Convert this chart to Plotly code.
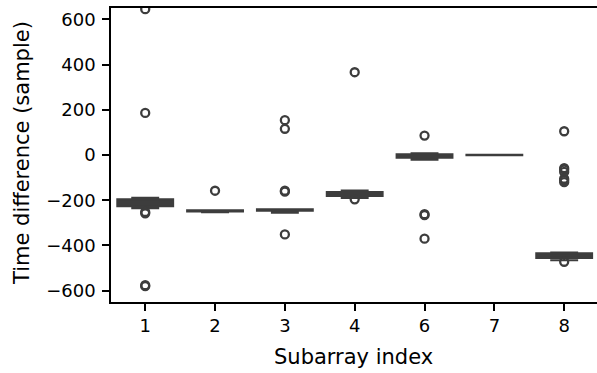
import plotly.graph_objects as go

categories = ["1", "2", "3", "4", "6", "7", "8"]
q1 = [-227, -250, -246, -181, -12, -1, -455]
median = [-212, -247, -243, -172, -5, 0, -445]
q3 = [-196, -244, -240, -164, 3, 1, -434]
lowerfence = [-236, -253, -255, -190, -21, -1, -465]
upperfence = [-189, -244, -240, -157, 8, 1, -431]

outliers_1 = [645, 186, -252, -258, -576, -580]
outliers_2 = [-158]
outliers_3 = [154, 116, -158, -162, -351]
outliers_4 = [366, -196]
outliers_6 = [86, -262, -266, -370]
outliers_7 = []
outliers_8 = [105, -58, -65, -75, -105, -112, -120, -472]

outliers = [outliers_1, outliers_2, outliers_3, outliers_4, outliers_6, outliers_7, outliers_8]

x_title = "Subarray index"
y_title = "Time difference (sample)"

dark = "#3d3d3d"
font = "DejaVu Sans"

W, H = 597, 373
ML, MR, MT, MB = 111, 0, 8, 71
pw, ph = W - ML - MR, H - MT - MB

fig = go.Figure()
fig.add_trace(go.Box(
    x=categories, q1=q1, median=median, q3=q3,
    lowerfence=lowerfence, upperfence=upperfence,
    boxpoints=False, fillcolor=dark, width=0.8,
    line=dict(color=dark, width=2), whiskerwidth=0.5,
    showlegend=False, hoverinfo="skip",
))

ox, oy = [], []
for c, vals in zip(categories, outliers):
    for v in vals:
        ox.append(c)
        oy.append(v)
fig.add_trace(go.Scatter(
    x=ox, y=oy, mode="markers",
    marker=dict(symbol="circle-open", size=8, color=dark, line=dict(width=2.3, color=dark)),
    showlegend=False, cliponaxis=True,
))

fig.update_layout(
    width=W, height=H,
    margin=dict(l=ML, r=MR, t=MT, b=MB, autoexpand=False),
    plot_bgcolor="white", paper_bgcolor="white",
    font=dict(family=font, color="black"),
    annotations=[
        dict(text=x_title, xref="paper", yref="paper",
             x=(353 - ML) / pw, y=(ph + MT - 357) / ph,
             xanchor="center", yanchor="middle", showarrow=False,
             font=dict(size=21, family=font, color="black")),
        dict(text=y_title, xref="paper", yref="paper",
             x=(22 - ML) / pw, y=(ph + MT - 153) / ph,
             xanchor="center", yanchor="middle", showarrow=False, textangle=-90,
             font=dict(size=21, family=font, color="black")),
    ],
)
fig.update_xaxes(
    type="category", range=[-0.49, 6.47], automargin=False,
    showline=True, linecolor="black", linewidth=1.6, mirror=True,
    ticks="outside", ticklen=7, tickwidth=1.5, tickcolor="black",
    tickfont=dict(size=18), showgrid=False, zeroline=False,
)
fig.update_yaxes(
    range=[-650, 650], tickvals=[-600, -400, -200, 0, 200, 400, 600],
    ticktext=["\u2212600", "\u2212400", "\u2212200", "0", "200", "400", "600"],
    automargin=False,
    showline=True, linecolor="black", linewidth=1.6,
    ticks="outside", ticklen=7, tickwidth=1.5, tickcolor="black",
    tickfont=dict(size=18), showgrid=False, zeroline=False,
    ticklabelstandoff=3,
)

fig.write_html(
    "out.html",
    config={"displayModeBar": False},
    post_script="document.body.style.margin='0';document.body.style.overflow='hidden';",
)
